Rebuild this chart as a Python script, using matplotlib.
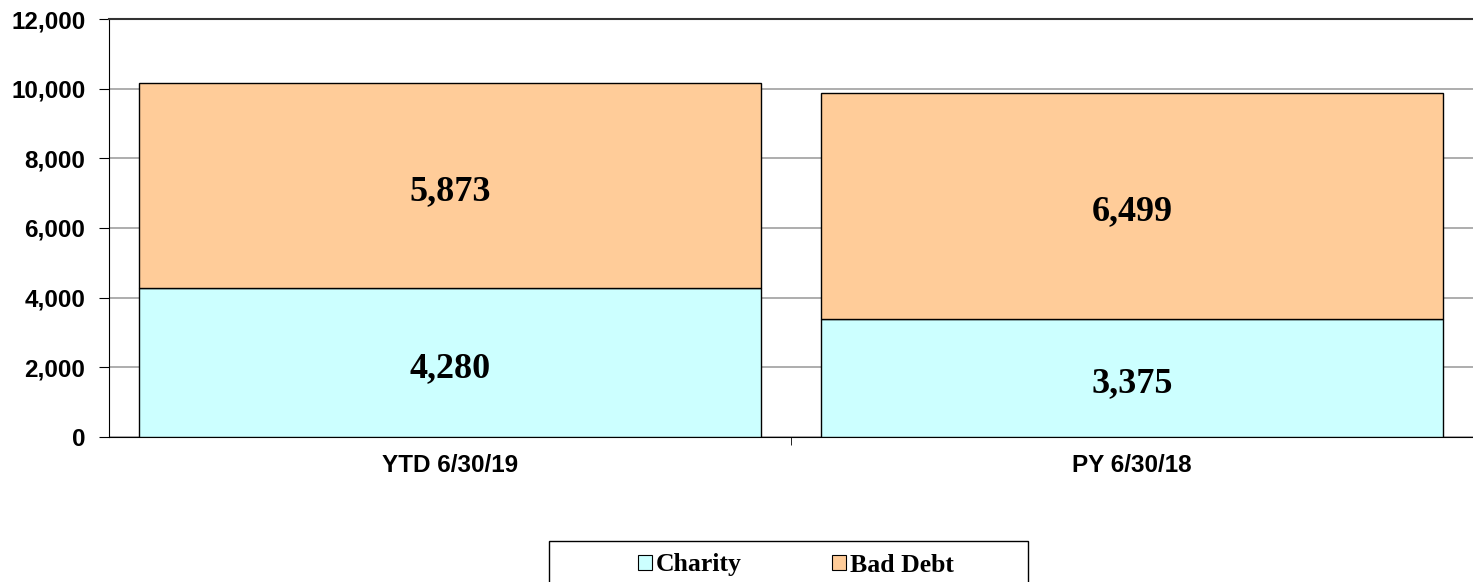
import matplotlib
matplotlib.use("Agg")
import matplotlib.pyplot as plt
from matplotlib.patches import Patch, Rectangle

categories = ["YTD 6/30/19", "PY 6/30/18"]
charity = [4280, 3375]
bad_debt = [5873, 6499]
series_names = ["Charity", "Bad Debt"]
colors = ["#CCFFFF", "#FFCC99"]

W, H = 1473, 582
fig = plt.figure(figsize=(W/100, H/100), dpi=100)
ax = fig.add_axes([109/W, 1-437/H, 1-109/W, (437-19)/H])

x = range(len(categories))
w = 0.913
ax.bar(x, charity, width=w, color=colors[0], edgecolor="black", linewidth=1.0, zorder=3)
ax.bar(x, bad_debt, width=w, bottom=charity, color=colors[1], edgecolor="black", linewidth=1.0, zorder=3)

lab_kw = dict(ha="center", va="center", fontsize=26, fontweight="bold",
              family="Liberation Serif", zorder=4, textcoords="offset points", xytext=(0, -4.2))
for i in x:
    ax.annotate(f"{charity[i]:,}", (i, charity[i]/2), **lab_kw)
    ax.annotate(f"{bad_debt[i]:,}", (i, charity[i] + bad_debt[i]/2), **lab_kw)

ax.set_xlim(-0.5, 1.5)
ax.set_ylim(0, 12000)
yt = list(range(0, 12001, 2000))
ax.set_yticks(yt)
ax.set_yticklabels([f"{v:,}" for v in yt], fontsize=17.5, fontweight="bold", family="Liberation Sans")
ax.yaxis.grid(True, color="#A0A0A0", linewidth=1.2, zorder=0)
ax.set_axisbelow(True)
ax.set_xticks([0, 1])
ax.set_xticklabels(categories, fontsize=17.5, fontweight="bold", family="Liberation Sans")
ax.tick_params(axis="x", length=0, pad=12)
ax.set_xticks([0.5], minor=True)
ax.tick_params(axis="x", which="minor", length=6, direction="out", color="black")
ax.tick_params(axis="y", length=7, direction="out", color="black", pad=10)

ax.spines["right"].set_visible(False)
ax.spines["top"].set_color("#333333")
ax.spines["top"].set_linewidth(1.5)
ax.spines["left"].set_color("black")
ax.spines["bottom"].set_color("black")

# legend box
fig.patches.append(Rectangle((549/W, -0.05), (1028-549)/W, 0.05 + 1-541/H,
                             transform=fig.transFigure, facecolor="white",
                             edgecolor="black", linewidth=1.0, zorder=1))

handles = [Patch(facecolor=colors[i], edgecolor="black", linewidth=0.8, label=series_names[i]) for i in range(2)]
leg = fig.legend(handles=handles, loc="center left",
                 bbox_to_anchor=(638/W, 1-565/H),
                 ncol=2, frameon=False,
                 prop={"family": "Liberation Serif", "weight": "bold", "size": 18.5},
                 handlelength=0.56, handleheight=0.5, handletextpad=0.14,
                 columnspacing=3.5, borderpad=0, borderaxespad=0)

fig.savefig("out.png", dpi=100)
